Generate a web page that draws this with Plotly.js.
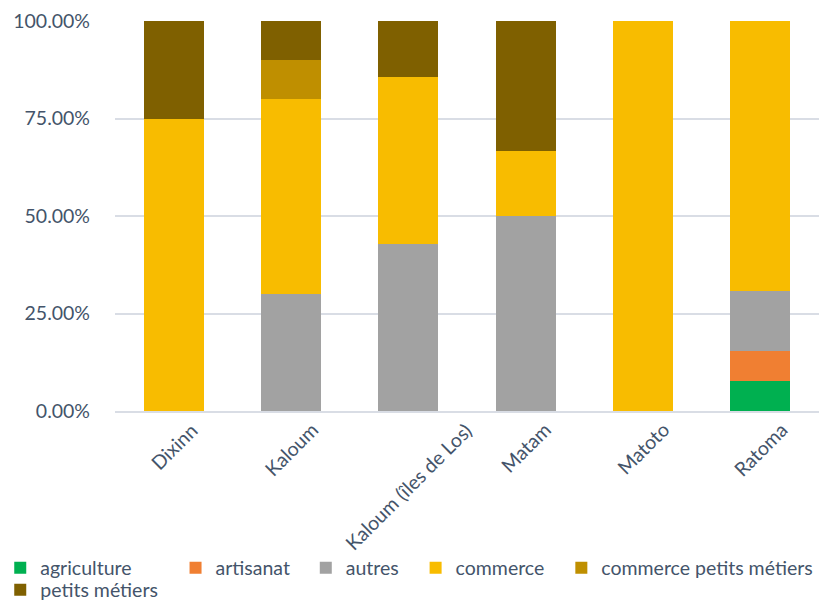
<!DOCTYPE html>
<html>
<head>
<meta charset="utf-8">
<script src="https://cdn.plot.ly/plotly-3.0.1.min.js"></script>
<style>html,body{margin:0;padding:0;background:#fff;}#chart{width:821px;height:601px;}</style>
</head>
<body>
<div id="chart"></div>
<script>
var categories = ["Dixinn", "Kaloum", "Kaloum (îles de Los)", "Matam", "Matoto", "Ratoma"];
var seriesNames = ["agriculture", "artisanat", "autres", "commerce", "commerce petits métiers", "petits métiers"];
var agriculture = [0, 0, 0, 0, 0, 7.69];
var artisanat = [0, 0, 0, 0, 0, 7.69];
var autres = [0, 30, 42.86, 50, 0, 15.38];
var commerce = [75, 50, 42.86, 16.67, 100, 69.23];
var commercePetitsMetiers = [0, 10, 0, 0, 0, 0];
var petitsMetiers = [25, 10, 14.29, 33.33, 0, 0];
var yTicks = [0, 25, 50, 75, 100];
var yTickLabels = ["0.00%", "25.00%", "50.00%", "75.00%", "100.00%"];

var seriesValues = [agriculture, artisanat, autres, commerce, commercePetitsMetiers, petitsMetiers];
var colors = ["#00b050", "#f07f32", "#a2a2a2", "#f8bc00", "#bf8f00", "#7f6000"];
var textColor = "#44546a";
var fontFamily = "Lato, sans-serif";
var fontSize = 19.5;

// one legend box per entry, placed like the original's legend layout
var legendKeys = ["legend", "legend2", "legend3", "legend4", "legend5", "legend6"];
var legendPos = [
  { x: -0.163, y: -0.4026 },
  { x: 0.086, y: -0.4026 },
  { x: 0.271, y: -0.4026 },
  { x: 0.427, y: -0.4026 },
  { x: 0.634, y: -0.4026 },
  { x: -0.163, y: -0.459 }
];

var traces = seriesNames.map(function (name, i) {
  return {
    type: "bar",
    name: name,
    legend: legendKeys[i],
    x: categories,
    y: seriesValues[i],
    marker: { color: colors[i], line: { width: 0 } },
    hoverinfo: "x+y+name"
  };
});

var layout = {
  width: 821,
  height: 601,
  barmode: "stack",
  bargap: 0.49,
  margin: { l: 115, r: 2, t: 21, b: 190, autoexpand: false },
  paper_bgcolor: "#fff",
  plot_bgcolor: "#fff",
  font: { family: fontFamily, size: fontSize, color: textColor },
  xaxis: {
    type: "category",
    showgrid: false,
    showline: true,
    linecolor: "#d9dde5",
    linewidth: 2,
    ticks: "",
    showticklabels: false,
    automargin: false
  },
  yaxis: {
    range: [0, 100],
    tickvals: yTicks,
    ticktext: yTickLabels,
    showgrid: true,
    gridcolor: "#d9dde5",
    gridwidth: 2,
    zeroline: false,
    showline: false,
    ticks: "",
    ticklen: 0,
    ticklabelstandoff: 24,
    automargin: false,
    tickfont: { size: fontSize, color: textColor }
  },
  showlegend: true,
  annotations: categories.map(function (c) {
    return {
      x: c,
      xref: "x",
      y: -0.012,
      yref: "paper",
      text: c,
      showarrow: false,
      textangle: -45,
      xanchor: "center",
      yanchor: "top",
      font: { family: fontFamily, size: fontSize, color: textColor }
    };
  })
};

legendKeys.forEach(function (k, i) {
  layout[k] = {
    orientation: "h",
    x: legendPos[i].x,
    y: legendPos[i].y,
    xanchor: "left",
    yanchor: "middle",
    font: { family: fontFamily, size: fontSize, color: textColor },
    itemwidth: 30,
    bgcolor: "rgba(0,0,0,0)"
  };
});

Plotly.newPlot("chart", traces, layout, { displayModeBar: false, staticPlot: true });
</script>
</body>
</html>
